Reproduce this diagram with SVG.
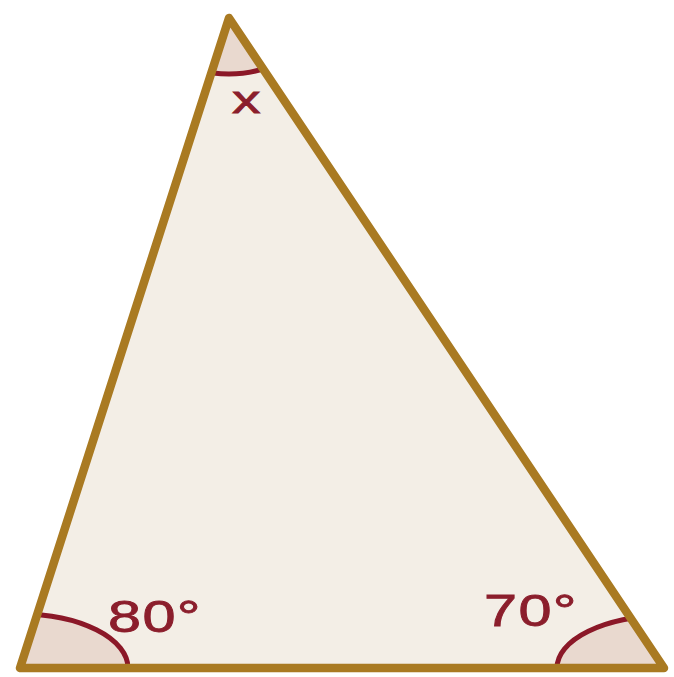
<svg xmlns="http://www.w3.org/2000/svg" width="674" height="677" viewBox="0 0 674 677">
<style>
.lbl{font-family:"Liberation Sans",Arial,sans-serif;fill:#8b1e2c;stroke:#8b1e2c;stroke-width:0.8;}
.arc{fill:#e9d9cf;stroke:#8b1828;stroke-width:5;}
</style>
<defs>
<clipPath id="tri"><polygon points="229,18 20,668 664,668"/></clipPath>
</defs>
<rect width="674" height="677" fill="#ffffff"/>
<g id="triangle">
<polygon points="229,18 20,668 664,668" fill="#f3eee6"/>
</g>
<g id="angles" clip-path="url(#tri)">
<ellipse id="angle-x" class="arc" cx="229" cy="18" rx="80" ry="56"/>
<ellipse id="angle-80" class="arc" cx="20" cy="668" rx="108" ry="54"/>
<ellipse id="angle-70" class="arc" cx="664" cy="668" rx="107" ry="52"/>
</g>
<g id="edges">
<polygon points="229,18 20,668 664,668" fill="none" stroke="#a97a22" stroke-width="8.5" stroke-linejoin="round"/>
</g>
<g id="labels">
<text class="lbl" transform="translate(232,113) scale(1.5,1)" font-size="38">x</text>
<text class="lbl" transform="translate(108,632) scale(1.35,1)" font-size="44" letter-spacing="1">80°</text>
<text class="lbl" transform="translate(484,626) scale(1.35,1)" font-size="44" letter-spacing="1">70°</text>
</g>
</svg>
